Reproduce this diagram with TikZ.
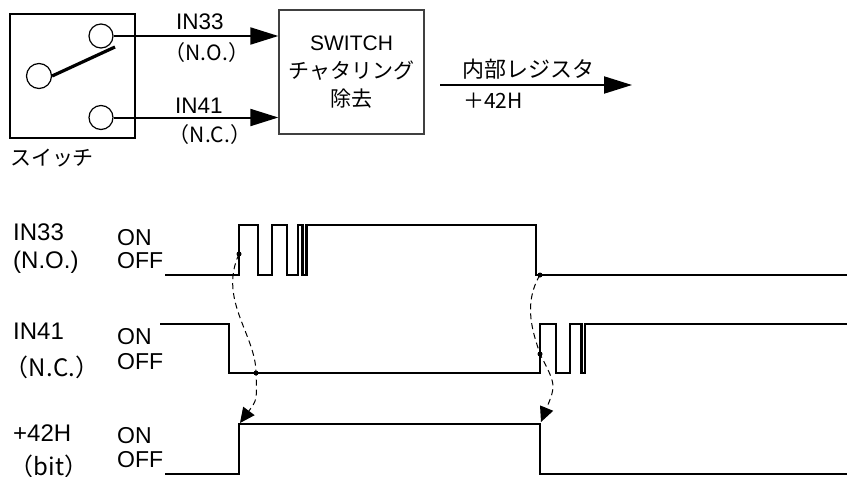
\documentclass[tikz,border=0pt]{standalone}
\usepackage{fontspec}
\setmainfont{Liberation Sans}
\newfontfamily\jp{Noto Sans CJK JP}
\usetikzlibrary{arrows.meta}

\begin{document}
\begin{tikzpicture}[x=1pt,y=-1pt]

                \tikzset{contact/.style = {shape=circle,draw,line width=1.2pt,minimum size=24pt,inner sep=0pt}}
                \tikzset{edge/.style = {-{Triangle[length=28pt,width=17pt]},line width=2pt}}
                \tikzset{wave/.style = {line width=2.6pt,line join=miter}}
                \tikzset{delay/.style = {dash pattern=on 6pt off 4pt,line width=1pt,-{Triangle[length=15pt,width=14pt]}}}
                \tikzset{dot/.style = {shape=circle,fill,inner sep=0pt,minimum size=5pt}}
                \tikzset{toplbl/.style = {inner sep=0pt,font=\fontsize{21}{28}\selectfont}}
                \tikzset{lbl/.style = {inner sep=0pt,anchor=west,font=\fontsize{24}{24}\selectfont}}
                \tikzset{lvl/.style = {inner sep=0pt,anchor=west,font=\fontsize{23}{23}\selectfont}}

                \useasboundingbox (0,0) rectangle (847,477);

                % switch and filter
                \node[draw,line width=2.2pt,minimum width=125pt,minimum height=124pt] (sw) at (72.5,76) {};
                \node[contact] (no) at (101,36) {};
                \node[contact] (nc) at (101,117.5) {};
                \node[contact,minimum size=25pt] (com) at (39,76) {};
                \draw[line width=3.2pt] (com.east) -- (115,47);
                \node[draw,draw=black!75,line width=1.3pt,minimum width=145pt,minimum height=124pt,
                      align=center,toplbl] (filter) at (351.5,72)
                      {SWITCH\\{\jp チャタリング}\\{\jp 除去}};
                \node[toplbl] (swname) at (52,158) {\jp スイッチ};

                \draw[edge] (no.east) -- (no.east -| filter.west);
                \draw[edge] (nc.east) -- (nc.east -| filter.west);
                \node[toplbl,font=\fontsize{22.5}{22}\selectfont] (in33t) at (200,22) {IN33};
                \node[toplbl] (not) at (207,53) {\jp （N.O.）};
                \node[toplbl,font=\fontsize{22.5}{22}\selectfont] (in41t) at (199,106) {IN41};
                \node[toplbl] (nct) at (210,135) {\jp （N.C.）};

                \coordinate (out1) at (440,85);
                \coordinate (out2) at (632,85);
                \draw[edge] (out1) -- (out2);
                \node[toplbl,font=\fontsize{22}{22}\selectfont] (reg) at (528,69) {\jp 内部レジスタ};
                \node[toplbl] (regbit) at (493,101) {\jp ＋42H};

                % timing chart
                \node[lbl] (in33) at (13,232) {IN33};
                \node[lbl] (no2) at (13,262) {(N.O.)};
                \node[lvl] (on1) at (117,238) {ON};
                \node[lvl] (off1) at (117,261) {OFF};
                \node[lbl] (in41) at (13,331) {IN41};
                \node[lbl,anchor=center] (nc2) at (52,367) {\jp （N.C.）};
                \node[lvl] (on2) at (117,337) {ON};
                \node[lvl] (off2) at (117,362) {OFF};
                \node[lbl] (bit) at (13,433) {+42H};
                \node[lbl,anchor=center] (bit2) at (49,466) {\jp （bit）};
                \node[lvl] (on3) at (117,436) {ON};
                \node[lvl] (off3) at (117,460) {OFF};

                \draw[wave] (165,275) -- (239,275) -- (239,225) -- (258,225) -- (258,275)
                      -- (272,275) -- (272,225) -- (287,225) -- (287,275) -- (298,275)
                      -- (298,225) -- (302.5,225) -- (302.5,275) -- (306.5,275) -- (306.5,225)
                      -- (536,225) -- (536,275) -- (847,275);
                \draw[wave] (160,324) -- (229,324) -- (229,373) -- (540,373) -- (540,324)
                      -- (556,324) -- (556,373) -- (570,373) -- (570,324) -- (581.5,324)
                      -- (581.5,373) -- (585,373) -- (585,324) -- (847,324);
                \draw[wave] (165,474) -- (239,474) -- (239,424) -- (540,424) -- (540,474) -- (847,474);

                \node[dot] (a1) at (239,254) {};
                \node[dot] (a2) at (256,373) {};
                \coordinate (a3) at (240,423);
                \node[dot] (b1) at (540,275) {};
                \node[dot] (b2) at (540,354) {};
                \coordinate (b3) at (541,422);

                \draw[delay] (a1.center) .. controls (218,300) and (256,335) .. (a2.center)
                      .. controls (257,400) .. (a3);
                \draw[delay] (b1.center) .. controls (522,305) and (534,335) .. (b2.center)
                      .. controls (556,385) .. (b3);
            \end{tikzpicture}
\end{document}
